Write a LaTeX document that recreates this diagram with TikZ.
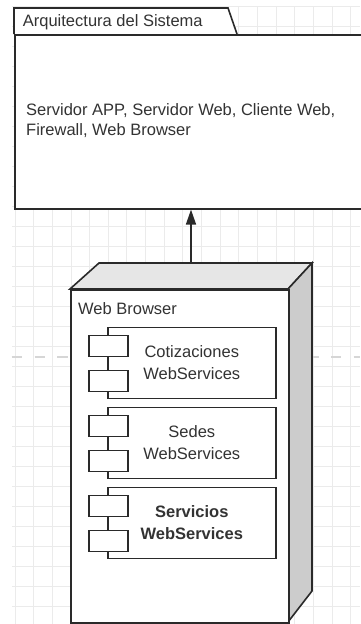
\documentclass[tikz,border=0pt]{standalone}
\usepackage{fontspec}
\setmainfont{Liberation Sans}
\usetikzlibrary{arrows.meta}
\definecolor{gridc}{HTML}{EBEBEB}
\definecolor{pagec}{HTML}{D6D6D6}
\definecolor{linec}{HTML}{2A2A2A}
\definecolor{textc}{HTML}{333333}
\definecolor{topc}{HTML}{E6E6E6}
\definecolor{sidec}{HTML}{CCCCCC}
\begin{document}
\begin{tikzpicture}[x=1pt,y=-1pt,
  gridline/.style={draw=gridc, line width=0.9pt},
  outl/.style={draw=linec, line width=1.6pt, line join=miter},
  txt/.style={text=textc, font=\fontsize{16.5}{20}\selectfont, inner sep=0pt},
  comp/.style={outl, fill=white, minimum width=168pt, minimum height=71pt, anchor=north west, align=center, text=textc, font=\fontsize{16.5}{21.5}\selectfont, inner sep=0pt},
  port/.style={outl, fill=white, minimum width=39pt, minimum height=21pt, anchor=north west, inner sep=0pt},
  arr/.style={draw=linec, line width=1.6pt, -{Triangle[length=15pt,width=10pt]}}
]
\useasboundingbox (0,0) rectangle (360,624);
\fill[white] (0,0) rectangle (360,624);
% background grid
\foreach \k in {0,...,18} { \draw[gridline] ({15+18.65*\k},7) -- ({15+18.65*\k},624); }
\foreach \k in {0,...,30} { \draw[gridline] (12,{6.7+20*\k}) -- (360,{6.7+20*\k}); }
% page break line
\draw[draw=pagec, line width=2pt, dash pattern=on 10.5pt off 12.3pt] (11.7,356.7) -- (360,356.7);

% package
\draw[outl, fill=white] (14,34) -- (14,8) -- (228,8) -- (237,34);
\node[txt, anchor=base west] (pkgtitle) at (22.7,26.7) {Arquitectura del Sistema};
\node[outl, fill=white, minimum width=350pt, minimum height=174pt, anchor=north west, inner sep=0pt] (pkg) at (14,34) {};
\node[txt, anchor=west, align=left] (pkgtext) at (26,120.5) {Servidor APP, Servidor Web, Cliente Web,\\Firewall, Web Browser};

% 3D device node
\coordinate (devtop) at (191,263);
\filldraw[outl, fill=topc] (70,289) -- (99,263) -- (312,263) -- (288,289) -- cycle;
\filldraw[outl, fill=sidec] (288,289) -- (312,263) -- (312,591) -- (288,622) -- cycle;
\node[outl, fill=white, minimum width=218pt, minimum height=333pt, anchor=north west, inner sep=0pt] (dev) at (70,289) {};
\node[txt, anchor=base west] (devlabel) at (78,314) {Web Browser};

% components
\node[comp] (c1) at (107,326.5) {Cotizaciones\\WebServices};
\node[port] (c1a) at (88,334.5) {};
\node[port] (c1b) at (88,369.5) {};

\node[comp] (c2) at (107,406.5) {Sedes\\WebServices};
\node[port] (c2a) at (88,414.5) {};
\node[port] (c2b) at (88,449.5) {};

\node[comp, font=\fontsize{16.5}{21.5}\selectfont\bfseries] (c3) at (107,486.5) {Servicios\\WebServices};
\node[port] (c3a) at (88,494.5) {};
\node[port] (c3b) at (88,529.5) {};

% connector
\draw[arr] (devtop) -- (devtop |- pkg.south);
\end{tikzpicture}
\end{document}
